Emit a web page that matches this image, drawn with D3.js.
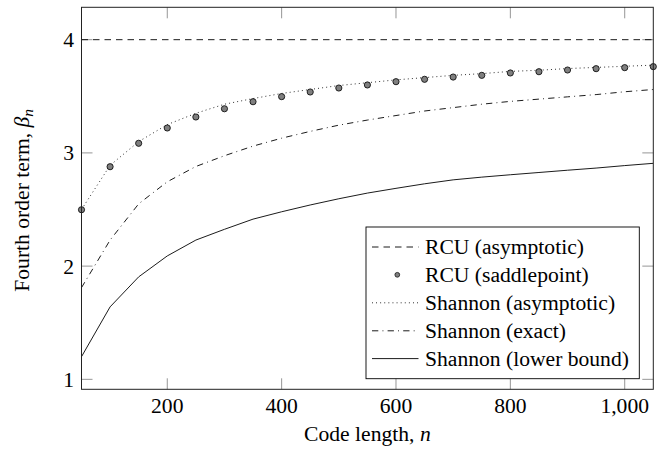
<!DOCTYPE html>
<html>
<head>
    <title>Fourth order term vs code length</title>
    <script src="https://d3js.org/d3.v7.min.js"></script>
    <style>
        body { margin: 0; background: #fff; }
    </style>
</head>
<body>
<div id="chart"></div>

<script>
    // values
    var codeLength = [50, 100, 150, 200, 250, 300, 350, 400, 450, 500, 550,
        600, 650, 700, 750, 800, 850, 900, 950, 1000, 1050];
    var rcuAsymptotic = [4, 4];
    var rcuAsymptoticN = [50, 1050];
    var rcuSaddlepoint = [2.498, 2.878, 3.085, 3.22, 3.317, 3.39, 3.452, 3.497, 3.538, 3.573, 3.60,
        3.629, 3.65, 3.67, 3.685, 3.706, 3.717, 3.732, 3.744, 3.753, 3.762];
    var shannonAsymptotic = [2.50, 2.89, 3.10, 3.25, 3.35, 3.43, 3.48, 3.525, 3.56, 3.595, 3.62,
        3.645, 3.665, 3.685, 3.70, 3.72, 3.73, 3.745, 3.755, 3.765, 3.775];
    var shannonExact = [1.81, 2.23, 2.55, 2.745, 2.88, 2.975, 3.06, 3.13, 3.19, 3.245, 3.29,
        3.33, 3.37, 3.40, 3.43, 3.455, 3.475, 3.495, 3.515, 3.54, 3.56];
    var shannonLower = [1.20, 1.64, 1.905, 2.09, 2.23, 2.325, 2.415, 2.48, 2.54, 2.595, 2.645,
        2.687, 2.727, 2.762, 2.786, 2.807, 2.827, 2.847, 2.866, 2.888, 2.908];
    var xTicks = [200, 400, 600, 800, 1000];
    var yTicks = [1, 2, 3, 4];
    var legendLabels = ["RCU (asymptotic)", "RCU (saddlepoint)", "Shannon (asymptotic)",
        "Shannon (exact)", "Shannon (lower bound)"];

    var W = 668, H = 451;
    var pLeft = 81.5, pRight = 653.3, pTop = 7.3, pBottom = 389.3;
    var serif = "'Liberation Serif', 'Times New Roman', Times, 'DejaVu Serif', serif";
    var fs = 21.6;

    var svg = d3.select("#chart")
        .append("svg")
        .attr("width", W)
        .attr("height", H)
        .attr("font-family", serif)
        .style("font-family", serif);

    var x = d3.scaleLinear().domain([50, 1050]).range([pLeft, pRight]);
    var y = d3.scaleLinear().domain([0.912, 4.286]).range([pBottom, pTop]);

    // styles for each series
    var dashed = "6.5 5",
        dotted = "0.9 3.2",
        dashdot = "6.3 4.2 0.9 4.2";

    svg.append("defs").append("clipPath")
        .attr("id", "clip")
        .append("rect")
        .attr("x", pLeft).attr("y", pTop)
        .attr("width", pRight - pLeft).attr("height", pBottom - pTop);

    // ticks (inside, mirrored)
    var tickLen = 11;
    var ticks = svg.append("g").attr("stroke", "#8a8a8a").attr("stroke-width", 0.9);
    xTicks.forEach(function(t) {
        ticks.append("line").attr("x1", x(t)).attr("x2", x(t)).attr("y1", pBottom).attr("y2", pBottom - tickLen);
        ticks.append("line").attr("x1", x(t)).attr("x2", x(t)).attr("y1", pTop).attr("y2", pTop + tickLen);
    });
    yTicks.forEach(function(t) {
        ticks.append("line").attr("x1", pLeft).attr("x2", pLeft + tickLen).attr("y1", y(t)).attr("y2", y(t));
        ticks.append("line").attr("x1", pRight).attr("x2", pRight - tickLen).attr("y1", y(t)).attr("y2", y(t));
    });

    var plot = svg.append("g").attr("clip-path", "url(#clip)");

    function addLine(xs, ys, dash) {
        var pts = xs.map(function(d, i) { return [d, ys[i]]; });
        plot.append("path")
            .datum(pts)
            .attr("fill", "none")
            .attr("stroke", "#000")
            .attr("stroke-width", 0.9)
            .attr("stroke-dasharray", dash)
            .attr("d", d3.line().x(function(d) { return x(d[0]); }).y(function(d) { return y(d[1]); }));
    }

    addLine(rcuAsymptoticN, rcuAsymptotic, dashed);
    addLine(codeLength, shannonAsymptotic, dotted);
    addLine(codeLength, shannonExact, dashdot);
    addLine(codeLength, shannonLower, null);

    // saddlepoint marks (not clipped)
    svg.append("g")
        .selectAll("circle")
        .data(codeLength)
        .enter().append("circle")
        .attr("cx", function(d) { return x(d); })
        .attr("cy", function(d, i) { return y(rcuSaddlepoint[i]); })
        .attr("r", 3.1)
        .attr("fill", "#7f7f7f")
        .attr("stroke", "#000")
        .attr("stroke-width", 0.8);

    // frame
    svg.append("rect")
        .attr("x", pLeft).attr("y", pTop)
        .attr("width", pRight - pLeft).attr("height", pBottom - pTop)
        .attr("fill", "none")
        .attr("stroke", "#222")
        .attr("stroke-width", 1);

    // tick labels
    svg.append("g").selectAll("text")
        .data(xTicks)
        .enter().append("text")
        .attr("x", function(d) { return x(d); })
        .attr("y", 413)
        .attr("text-anchor", "middle")
        .attr("font-size", fs)
        .text(d3.format(","));

    svg.append("g").selectAll("text")
        .data(yTicks)
        .enter().append("text")
        .attr("x", 74)
        .attr("y", function(d) { return y(d) + 7.5; })
        .attr("text-anchor", "end")
        .attr("font-size", fs)
        .text(function(d) { return d; });

    // axis titles
    var xt = svg.append("text")
        .attr("x", (pLeft + pRight) / 2)
        .attr("y", 441)
        .attr("text-anchor", "middle")
        .attr("font-size", fs);
    xt.append("tspan").text("Code length, ");
    xt.append("tspan").attr("font-style", "italic").text("n");

    var yt = svg.append("text")
        .attr("transform", "translate(29," + ((pTop + pBottom) / 2 + 2) + ") rotate(-90)")
        .attr("text-anchor", "middle")
        .attr("font-size", fs);
    yt.append("tspan").text("Fourth order term, ");
    yt.append("tspan").attr("font-style", "italic").text("β");
    yt.append("tspan").attr("font-style", "italic").attr("font-size", 15.5).attr("dy", 4).text("n");

    // legend
    var lg = svg.append("g");
    lg.append("rect")
        .attr("x", 366).attr("y", 227)
        .attr("width", 273.3).attr("height", 151.7)
        .attr("fill", "#fff")
        .attr("stroke", "#000")
        .attr("stroke-width", 0.9);

    var rowY = [247, 274.8, 302.8, 330.8, 358.6];
    var styles = [dashed, "marker", dotted, dashdot, null];
    legendLabels.forEach(function(label, i) {
        if (styles[i] === "marker") {
            lg.append("circle")
                .attr("cx", 397.3).attr("cy", rowY[i])
                .attr("r", 2.4)
                .attr("fill", "#7f7f7f")
                .attr("stroke", "#000")
                .attr("stroke-width", 0.7);
        } else {
            lg.append("line")
                .attr("x1", 372).attr("x2", 418.5)
                .attr("y1", rowY[i]).attr("y2", rowY[i])
                .attr("stroke", "#000")
                .attr("stroke-width", 0.9)
                .attr("stroke-dasharray", styles[i]);
        }
        lg.append("text")
            .attr("x", 425)
            .attr("y", rowY[i] + 7)
            .attr("font-size", fs)
            .text(label);
    });
</script>
</body>
</html>
